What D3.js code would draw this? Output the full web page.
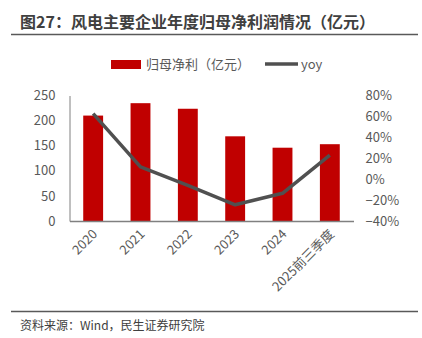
<!DOCTYPE html>
<html><head><meta charset="utf-8">
<script src="https://cdn.jsdelivr.net/npm/d3@7"></script>
<style>body{margin:0;background:#fff}svg{display:block}text{font-family:"Noto Sans CJK SC","Noto Sans",sans-serif}</style>
</head><body><svg id="c" width="422" height="338"></svg>
<script>
const categories = ["2020","2021","2022","2023","2024","2025前三季度"];
const profit = [210, 234.7, 223.6, 168.7, 146, 153];
const yoy = [0.626, 0.118, -0.06, -0.245, -0.135, 0.229];
const leftTicks = [0,50,100,150,200,250];
const rightTicks = [-0.4,-0.2,0,0.2,0.4,0.6,0.8];
const title = "图27：风电主要企业年度归母净利润情况（亿元）";
const source = "资料来源：Wind，民生证券研究院";
const seriesNames = ["归母净利（亿元）","yoy"];

(function(){
const svg = d3.select("#c");
const pL = 69.5, pR = 353.5, pT = 95.5, pB = 221;
const x = d3.scaleBand().domain(categories).range([pL, pR]).paddingInner(0.58).paddingOuter(0.29);
const yL = d3.scaleLinear().domain([0,250]).range([pB, pT]);
const yR = d3.scaleLinear().domain([-0.4,0.8]).range([pB, pT]);

svg.append("text").attr("x",20).attr("y",28).attr("font-size",16).attr("font-weight","bold").attr("fill","#404040").text(title);
svg.append("line").attr("x1",11).attr("x2",418).attr("y1",34.5).attr("y2",34.5).attr("stroke","#595959").attr("stroke-width",1.5);

// legend
svg.append("rect").attr("x",111).attr("y",60).attr("width",30).attr("height",9).attr("fill","#c00000");
svg.append("text").attr("x",146).attr("y",69).attr("font-size",13).attr("fill","#595959").text(seriesNames[0]);
svg.append("line").attr("x1",265).attr("x2",298).attr("y1",64).attr("y2",64).attr("stroke","#505050").attr("stroke-width",3.5);
svg.append("text").attr("x",301).attr("y",69).attr("font-size",13).attr("fill","#595959").text(seriesNames[1]);

// bars
svg.selectAll("rect.bar").data(categories).enter().append("rect").attr("class","bar")
  .attr("x",d=>x(d)).attr("width",x.bandwidth())
  .attr("y",(d,i)=>yL(profit[i])).attr("height",(d,i)=>pB-yL(profit[i]))
  .attr("fill","#c00000");

// axes
const gl = svg.append("g").attr("transform",`translate(${pL},0)`)
  .call(d3.axisLeft(yL).tickValues(leftTicks).tickSize(0).tickPadding(14));
gl.select(".domain").attr("stroke","#808080");
gl.selectAll("text").attr("font-size",13).attr("fill","#595959").attr("font-family","'Open Sans','Noto Sans',sans-serif");

const gr = svg.append("g").attr("transform",`translate(${pR+12},0)`)
  .call(d3.axisRight(yR).tickValues(rightTicks).tickSize(0).tickPadding(0).tickFormat(d3.format(".0%")));
gr.select(".domain").remove();
gr.selectAll("text").attr("font-size",13).attr("fill","#595959").attr("font-family","'Open Sans','Noto Sans',sans-serif");

const gx = svg.append("g").attr("transform",`translate(0,${pB})`)
  .call(d3.axisBottom(x).tickSize(0).tickSizeOuter(0));
gx.select(".domain").attr("stroke","#808080").attr("stroke-width",1.5);
gx.selectAll("text").attr("font-size",13).attr("fill","#595959").attr("font-family","'Open Sans','Noto Sans CJK SC',sans-serif")
  .attr("text-anchor","end").attr("dy",0).attr("y",0)
  .attr("transform","translate(5,14) rotate(-45)");

// line
const line = d3.line().x((d,i)=>x(categories[i])+x.bandwidth()/2).y(d=>yR(d));
svg.append("path").datum(yoy).attr("d",line).attr("fill","none").attr("stroke","#505050").attr("stroke-width",3.5).attr("stroke-linejoin","round");

svg.append("line").attr("x1",11).attr("x2",418).attr("y1",311.5).attr("y2",311.5).attr("stroke","#595959").attr("stroke-width",1.5);
svg.append("text").attr("x",20).attr("y",330).attr("font-size",12).attr("fill","#404040").text(source);
})();
</script></body></html>
